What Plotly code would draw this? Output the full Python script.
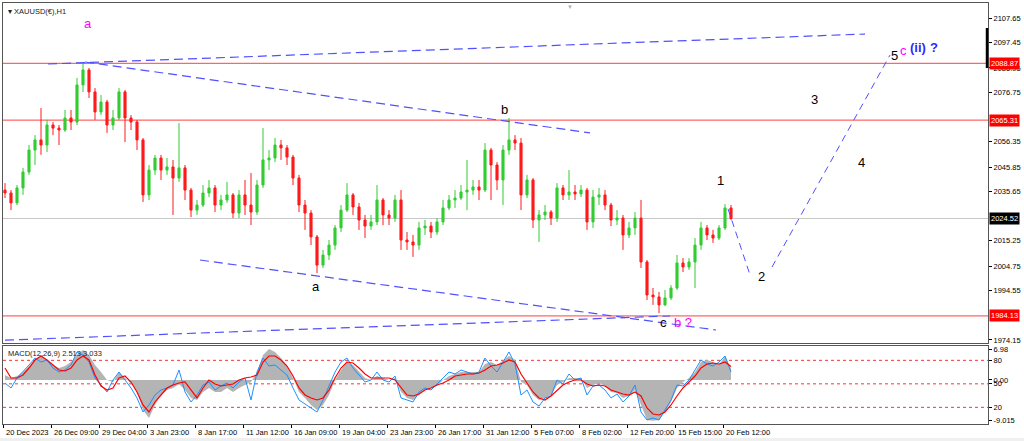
import plotly.graph_objects as go

# ---------------- data ----------------
bar_index = list(range(122))

opens = [2036.3, 2035.1, 2031.0, 2037.2, 2043.8, 2052.9, 2057.1, 2055.0, 2063.3, 2062.0,
         2061.2, 2066.2, 2064.5, 2079.9, 2086.1, 2077.0, 2068.7, 2072.8, 2063.3, 2066.2,
         2077.0, 2066.2, 2064.5, 2057.1, 2034.3, 2044.6, 2049.6, 2044.6, 2045.9, 2041.3,
         2045.5, 2036.3, 2028.0, 2030.1, 2035.1, 2037.2, 2030.1, 2032.2, 2034.3, 2026.8,
         2034.3, 2030.1, 2027.2, 2038.4, 2048.8, 2049.6, 2055.0, 2053.8, 2050.0, 2041.3,
         2030.1, 2026.8, 2016.9, 2005.2, 2009.4, 2013.5, 2020.6, 2028.0, 2034.3, 2029.3,
         2023.9, 2021.4, 2023.1, 2032.2, 2026.0, 2024.7, 2032.2, 2015.6, 2014.8, 2013.5,
         2020.6, 2021.4, 2018.9, 2023.1, 2028.9, 2032.2, 2033.0, 2035.5, 2036.3, 2037.6,
         2036.3, 2052.9, 2046.7, 2040.5, 2052.9, 2057.1, 2055.8, 2034.3, 2040.5, 2023.9,
         2026.0, 2027.2, 2024.7, 2037.2, 2034.3, 2035.5, 2034.7, 2036.3, 2023.1, 2033.4,
         2034.3, 2030.1, 2023.9, 2024.7, 2017.7, 2020.6, 2024.7, 2006.5, 1992.8, 1992.0,
         1988.7, 1991.6, 1995.7, 2006.1, 2004.4, 2006.5, 2013.5, 2020.6, 2017.7, 2016.4,
         2020.6, 2028.9]

highs = [2039.2, 2036.3, 2038.4, 2045.5, 2055.0, 2059.1, 2070.3, 2065.4, 2064.5, 2063.3,
         2069.5, 2069.5, 2082.8, 2089.0, 2086.9, 2078.6, 2075.7, 2073.7, 2069.5, 2078.6,
         2077.8, 2067.4, 2065.4, 2057.9, 2046.7, 2050.9, 2050.9, 2049.6, 2048.8, 2064.1,
         2046.7, 2037.2, 2032.2, 2038.4, 2040.5, 2038.4, 2034.3, 2039.7, 2035.1, 2036.3,
         2040.5, 2043.4, 2040.5, 2062.0, 2052.9, 2057.9, 2057.1, 2055.0, 2050.9, 2042.6,
         2032.2, 2028.0, 2017.7, 2011.5, 2015.6, 2021.8, 2030.1, 2039.2, 2035.1, 2031.0,
         2026.0, 2026.0, 2038.4, 2033.0, 2028.0, 2034.3, 2036.3, 2018.9, 2017.7, 2023.1,
         2023.9, 2023.1, 2024.7, 2032.2, 2034.3, 2036.3, 2038.4, 2048.8, 2040.5, 2040.5,
         2055.8, 2053.8, 2047.9, 2055.0, 2066.2, 2059.1, 2057.9, 2042.6, 2041.3, 2028.0,
         2030.1, 2028.0, 2039.2, 2038.4, 2044.6, 2038.4, 2038.4, 2037.2, 2036.3, 2037.2,
         2036.3, 2031.0, 2028.0, 2026.0, 2023.1, 2027.2, 2032.2, 2007.3, 1995.7, 1994.1,
         1994.9, 1996.9, 2009.4, 2008.1, 2008.1, 2016.4, 2023.1, 2021.8, 2019.8, 2021.8,
         2030.5, 2030.1]

lows = [2033.0, 2028.0, 2030.1, 2034.3, 2042.6, 2046.7, 2050.9, 2052.1, 2059.1, 2055.0,
        2060.4, 2061.2, 2063.3, 2077.0, 2074.5, 2065.4, 2067.4, 2060.0, 2061.2, 2065.4,
        2056.2, 2061.2, 2052.9, 2031.4, 2032.2, 2042.6, 2040.5, 2042.6, 2026.0, 2039.7,
        2032.2, 2025.1, 2026.0, 2029.3, 2033.4, 2027.2, 2028.0, 2031.0, 2024.7, 2024.7,
        2026.0, 2021.8, 2026.0, 2037.2, 2044.6, 2047.9, 2048.8, 2046.7, 2038.4, 2027.2,
        2019.8, 2013.5, 2001.9, 2004.0, 2007.3, 2011.5, 2018.9, 2027.2, 2026.0, 2019.8,
        2016.4, 2019.8, 2021.8, 2021.8, 2021.8, 2023.1, 2011.5, 2011.5, 2008.6, 2011.5,
        2017.7, 2016.4, 2017.7, 2021.8, 2028.0, 2028.9, 2032.2, 2028.0, 2034.3, 2032.2,
        2035.5, 2032.2, 2036.3, 2030.1, 2050.9, 2052.9, 2028.0, 2033.0, 2020.6, 2014.8,
        2023.9, 2021.8, 2023.1, 2032.2, 2032.2, 2032.2, 2033.4, 2019.8, 2020.6, 2030.1,
        2028.0, 2021.4, 2021.8, 2011.5, 2016.4, 2017.7, 2004.0, 1990.7, 1988.7, 1985.3,
        1988.2, 1990.7, 1994.9, 2002.3, 2003.2, 1995.7, 2011.5, 2015.6, 2014.4, 2015.6,
        2019.8, 2023.9]

closes = [2035.1, 2031.0, 2037.2, 2043.8, 2052.9, 2057.1, 2055.0, 2063.3, 2062.0, 2061.2,
          2066.2, 2064.5, 2079.9, 2086.1, 2077.0, 2068.7, 2072.8, 2063.3, 2066.2, 2077.0,
          2066.2, 2064.5, 2057.1, 2034.3, 2044.6, 2049.6, 2044.6, 2045.9, 2041.3, 2045.5,
          2036.3, 2028.0, 2030.1, 2035.1, 2037.2, 2030.1, 2032.2, 2034.3, 2026.8, 2034.3,
          2030.1, 2027.2, 2038.4, 2048.8, 2049.6, 2055.0, 2053.8, 2050.0, 2041.3, 2030.1,
          2026.8, 2016.9, 2005.2, 2009.4, 2013.5, 2020.6, 2028.0, 2034.3, 2029.3, 2023.9,
          2021.4, 2023.1, 2032.2, 2026.0, 2024.7, 2032.2, 2015.6, 2014.8, 2013.5, 2020.6,
          2021.4, 2018.9, 2023.1, 2028.9, 2032.2, 2033.0, 2035.5, 2036.3, 2037.6, 2036.3,
          2052.9, 2046.7, 2040.5, 2052.9, 2057.1, 2055.8, 2034.3, 2040.5, 2023.9, 2026.0,
          2027.2, 2024.7, 2037.2, 2034.3, 2035.5, 2034.7, 2036.3, 2023.1, 2033.4, 2034.3,
          2030.1, 2023.9, 2024.7, 2017.7, 2020.6, 2024.7, 2006.5, 1992.8, 1992.0, 1988.7,
          1991.6, 1995.7, 2006.1, 2004.4, 2006.5, 2013.5, 2020.6, 2017.7, 2016.4, 2020.6,
          2028.9, 2024.52]

macd_main = [1.13, 0.45, 0.90, 1.80, 3.15, 4.50, 5.41, 4.50, 3.38, 2.70,
             3.15, 4.05, 5.63, 6.76, 5.63, 3.38, 1.80, 0.0, -0.45, 1.80,
             0.45, -0.68, -2.70, -6.76, -8.56, -5.63, -3.38, -2.25, -1.80, -0.90,
             -2.25, -4.05, -4.50, -2.70, -1.80, -2.70, -2.70, -1.80, -2.70, -1.80,
             -1.13, -0.45, 1.80, 5.63, 6.98, 6.31, 4.95, 3.15, 0.45, -2.70,
             -4.05, -5.63, -6.76, -5.63, -3.38, 0.0, 2.25, 4.05, 3.38, 1.80,
             0.45, 0.0, 0.90, 0.45, 0.0, 0.45, -2.70, -4.05, -4.50, -3.38,
             -2.25, -1.80, -1.35, 0.0, 0.90, 1.35, 1.80, 1.80, 1.80, 1.80,
             3.60, 4.05, 3.38, 4.50, 5.41, 4.50, -0.45, -1.13, -3.38, -4.50,
             -4.05, -3.38, -1.13, -0.45, 0.45, 0.45, 0.45, -1.80, -1.13, -0.68,
             -1.35, -2.70, -2.93, -4.05, -3.60, -2.25, -5.63, -9.01, -9.2, -9.01,
             -7.21, -4.95, -1.80, -0.45, 0.45, 1.80, 4.05, 4.50, 4.05, 3.38,
             5.41, 2.513]

macd_signal = [2.70, 0.45, 0.45, 1.13, 2.70, 4.50, 5.41, 4.50, 3.38, 2.25,
               2.03, 2.70, 4.50, 5.41, 4.50, 1.13, -1.35, -2.25, -1.80, 0.45,
               0.90, -0.45, -2.70, -5.63, -7.21, -4.95, -3.38, -1.80, -1.13, -0.68,
               -0.45, -2.25, -4.05, -1.80, 0.0, -0.90, -1.35, -1.13, -0.90, 0.0,
               0.45, 0.68, 1.13, 4.05, 5.41, 5.41, 4.50, 3.15, 0.90, -1.80,
               -3.38, -4.05, -4.50, -4.05, -2.25, 0.45, 2.70, 4.05, 3.83, 2.70,
               1.35, 0.45, 0.45, 0.45, 0.45, 0.0, -1.80, -3.38, -3.60, -3.15,
               -2.25, -1.80, -1.13, -0.68, 0.0, 0.90, 1.13, 1.35, 1.35, 1.58,
               2.25, 3.15, 3.38, 3.83, 4.50, 4.05, 1.35, -0.68, -2.70, -4.05,
               -4.50, -3.60, -2.25, -1.13, -0.45, 0.0, 0.0, -0.90, -1.35, -1.13,
               -1.35, -2.25, -2.70, -3.15, -3.38, -2.70, -3.60, -6.31, -7.66, -7.88,
               -7.21, -5.63, -3.60, -1.80, -0.45, 0.90, 2.70, 3.60, 3.83, 3.60,
               4.05, 3.033]

macd_fast = [-0.68, -1.80, 0.45, 1.80, 3.38, 4.95, 4.05, 4.50, 2.70, 1.80,
             2.25, 3.38, 6.31, 5.63, 4.05, 0.45, -1.13, -2.70, 0.0, 1.80,
             0.0, -1.80, -4.05, -7.21, -5.63, -3.38, -2.25, -1.80, -1.13, 2.25,
             -2.70, -4.95, -3.38, -1.13, -0.45, -2.25, -1.35, -0.68, -1.80, -0.45,
             0.45, -4.50, 1.80, 4.95, 3.15, 3.38, 2.25, 1.13, -1.80, -4.50,
             -5.40, -6.31, -7.21, -4.50, -1.13, 1.80, 4.05, 4.95, 2.70, 1.13,
             -0.45, 0.0, 1.80, 0.0, -0.45, 0.90, -4.05, -4.50, -4.95, -2.70,
             -1.80, -2.25, -0.90, 0.45, 1.80, 1.35, 2.25, 1.80, 1.35, 1.80,
             4.95, 3.15, 1.80, 4.05, 6.31, 3.60, -3.38, -2.25, -4.95, -5.86,
             -4.05, -3.60, 0.0, -0.90, 1.35, 0.0, 0.45, -3.38, -1.35, -1.13,
             -2.25, -4.05, -3.15, -4.95, -3.60, -1.13, -7.21, -9.01, -8.56, -9.01,
             -6.76, -4.50, -1.13, -1.35, 0.0, 2.25, 4.50, 3.60, 3.15, 4.05,
             5.41, 1.80]

osc_levels = [80, 50, 20]
hline_levels = [2088.87, 2065.31, 1984.13]
current_price = 2024.52

price_ticks = [2107.65, 2097.45, 2086.95, 2076.75, 2056.35, 2045.85, 2035.65,
               2015.25, 2004.75, 1994.55, 1974.15]
time_labels = ["20 Dec 2023", "26 Dec 09:00", "29 Dec 04:00", "3 Jan 23:00", "8 Jan 17:00",
               "11 Jan 12:00", "16 Jan 09:00", "19 Jan 04:00", "23 Jan 23:00", "26 Jan 17:00",
               "31 Jan 12:00", "5 Feb 07:00", "8 Feb 02:00", "12 Feb 20:00", "15 Feb 15:00",
               "20 Feb 12:00"]
time_label_bars = [-0.17, 7.83, 15.83, 23.83, 31.83, 39.83, 47.83, 55.83, 63.83, 71.83,
                   79.83, 87.83, 95.83, 103.83, 111.83, 119.83]

# trend / projection lines (bar, price)
channel_lines = [
    ((7.17, 2088.58), (143.33, 2101.0)),
    ((13.33, 2089.4), (97.5, 2060.0)),
    ((32.5, 2007.3), (118.5, 1978.3)),
    ((0.0, 1974.1), (110.83, 1984.1)),
]
projection_lines = [
    ((120.5, 2028.5), (124.17, 2001.1)),
    ((127.83, 2004.4), (147.5, 2092.3)),
]

wave_labels = [  # text, bar, price, color
    ("a", 13.83, 2105.4, "#ff00ff"),
    ("a", 51.83, 1996.5, "#000000"),
    ("b", 83.33, 2069.9, "#000000"),
    ("c", 109.67, 1981.4, "#000000"),
    ("b ?", 113.0, 1981.2, "#ff00ff"),
    ("1", 119.17, 2040.1, "#000000"),
    ("2", 126.0, 2000.3, "#000000"),
    ("3", 134.83, 2074.0, "#000000"),
    ("4", 142.67, 2047.9, "#000000"),
    ("5", 148.17, 2092.3, "#000000"),
    ("c", 149.67, 2094.2, "#ff00ff"),
]

FONT = "Liberation Sans"
BLUE = "#5050ff"

fig = go.Figure()

fig.add_trace(go.Candlestick(
    x=bar_index, open=opens, high=highs, low=lows, close=closes,
    xaxis="x", yaxis="y",
    increasing=dict(line=dict(color="#33cc33", width=1), fillcolor="#33cc33"),
    decreasing=dict(line=dict(color="#ff1a1a", width=1), fillcolor="#ff1a1a"),
    whiskerwidth=0, hoverinfo="skip", showlegend=False,
))

fig.add_trace(go.Scatter(x=bar_index, y=macd_main, xaxis="x2", yaxis="y2", mode="lines",
                         line=dict(width=0, color="#b0b0b0"), fill="tozeroy",
                         fillcolor="#b4b4b4", hoverinfo="skip", showlegend=False))
fig.add_trace(go.Scatter(x=bar_index, y=macd_fast, xaxis="x2", yaxis="y2", mode="lines",
                         line=dict(width=1, color="#1e90ff"), hoverinfo="skip", showlegend=False))
fig.add_trace(go.Scatter(x=bar_index, y=macd_signal, xaxis="x2", yaxis="y2", mode="lines",
                         line=dict(width=1.2, color="#ff0000"), hoverinfo="skip", showlegend=False))

shapes = []
for lv in hline_levels:
    shapes.append(dict(type="line", xref="paper", x0=0, x1=1, yref="y", y0=lv, y1=lv,
                       line=dict(color="#ff4040", width=1), layer="below"))
shapes.append(dict(type="line", xref="paper", x0=0, x1=1, yref="y", y0=current_price,
                   y1=current_price, line=dict(color="#c8c8c8", width=1), layer="below"))
for lv in osc_levels:
    shapes.append(dict(type="line", xref="paper", x0=0, x1=1, yref="y3", y0=lv, y1=lv,
                       line=dict(color="#ff3030", width=1, dash="3px,3px"), layer="below"))
for (a, b) in channel_lines:
    shapes.append(dict(type="line", xref="x", yref="y", x0=a[0], y0=a[1], x1=b[0], y1=b[1],
                       line=dict(color=BLUE, width=1.2, dash="9px,5px")))
for (a, b) in projection_lines:
    shapes.append(dict(type="line", xref="x", yref="y", x0=a[0], y0=a[1], x1=b[0], y1=b[1],
                       line=dict(color=BLUE, width=1, dash="7px,5px")))
# chart-shift marker on the price scale
shapes.append(dict(type="line", xref="paper", x0=0.999, x1=0.999, yref="y", y0=2103.5,
                   y1=2086.9, line=dict(color="#000000", width=2.5)))
# light grey strip at the very bottom
shapes.append(dict(type="rect", xref="paper", x0=-0.01, x1=1.05, yref="paper",
                   y0=-0.045, y1=-0.033, fillcolor="#f0f0f0", line=dict(width=0)))

ann = []
for (txt, bx, pr, col) in wave_labels:
    ann.append(dict(x=bx, y=pr, xref="x", yref="y", text=txt, showarrow=False,
                    font=dict(family=FONT, size=13, color=col)))
ann.append(dict(x=152.2, y=2095.6, xref="x", yref="y", text="<b>(ii)</b>", showarrow=False,
                font=dict(family=FONT, size=13, color="#2a2aff")))
ann.append(dict(x=154.8, y=2095.6, xref="x", yref="y", text="<b>?</b>", showarrow=False,
                font=dict(family=FONT, size=13, color="#2a2aff")))

for lv, bg in [(2088.87, "#ff0000"), (2065.31, "#ff0000"), (1984.13, "#ff0000"),
               (current_price, "#000000")]:
    ann.append(dict(x=1, xref="paper", xanchor="left", xshift=1, y=lv, yref="y",
                    text=f"{lv:.2f}", showarrow=False, bgcolor=bg, borderpad=1,
                    font=dict(family=FONT, size=7.5, color="#ffffff")))

for bx, lab in zip(time_label_bars, time_labels):
    ann.append(dict(x=bx, xref="x2", y=0, yref="paper", yanchor="top", xanchor="left",
                    yshift=-2, text=lab, showarrow=False,
                    font=dict(family=FONT, size=7.5, color="#000000")))

ann.append(dict(x=0, xref="paper", xanchor="left", xshift=3, y=1, yref="paper",
                yanchor="top", yshift=-2, text="▾ XAUUSD(€),H1", showarrow=False,
                font=dict(family=FONT, size=7.5, color="#222222")))
ann.append(dict(x=0, xref="paper", xanchor="left", xshift=3, y=0.1853, yref="paper",
                yanchor="top", yshift=-1, text="MACD(12,26,9) 2.513 3.033", showarrow=False,
                font=dict(family=FONT, size=7.5, color="#222222")))
ann.append(dict(x=94.2, xref="x", y=1, yref="paper", yanchor="top", yshift=1,
                text="▼", showarrow=False, font=dict(family=FONT, size=6, color="#b0b0b0")))

axis_common = dict(showgrid=False, zeroline=False, showline=True, mirror=True,
                   linecolor="#555555", linewidth=1)
tickfont = dict(family=FONT, size=7.5, color="#000000")

fig.update_layout(
    width=1024, height=441, autosize=False,
    margin=dict(l=3, r=36, t=3, b=17, pad=0),
    paper_bgcolor="#ffffff", plot_bgcolor="#ffffff",
    showlegend=False, hovermode=False, boxgap=0.5,
    xaxis=dict(domain=[0, 1], anchor="y", range=[-0.333, 163.83], showticklabels=False,
               ticks="", rangeslider=dict(visible=False), **axis_common),
    yaxis=dict(domain=[0.1924, 1], anchor="x", side="right", range=[1972.9, 2113.87],
               tickvals=price_ticks, ticktext=[f"{v:.2f}" for v in price_ticks],
               ticks="outside", ticklen=3, tickcolor="#000000", tickfont=tickfont,
               **axis_common),
    xaxis2=dict(domain=[0, 1], anchor="y2", matches="x", range=[-0.333, 163.83],
                showticklabels=False, ticks="outside", ticklen=3, tickcolor="#000000",
                tickvals=time_label_bars, **axis_common),
    yaxis2=dict(domain=[0, 0.1853], anchor="x2", side="right", range=[-9.91, 7.66],
                tickvals=[6.98, 0.0, -9.015], ticktext=["6.98", "0.00", "-9.015"],
                ticks="outside", ticklen=3, tickcolor="#000000", tickfont=tickfont,
                **axis_common),
    yaxis3=dict(overlaying="y2", anchor="x2", side="right", range=[-1.28, 98.3],
                tickvals=osc_levels, ticktext=[str(v) for v in osc_levels],
                ticks="outside", ticklen=3, tickcolor="#000000", tickfont=tickfont,
                showgrid=False, zeroline=False, showline=False),
    shapes=shapes, annotations=ann,
)

fig.write_html("out.html",
               config={"displayModeBar": False, "staticPlot": True},
               post_script="document.body.style.margin='0px';"
                           "document.body.style.overflow='hidden';")
